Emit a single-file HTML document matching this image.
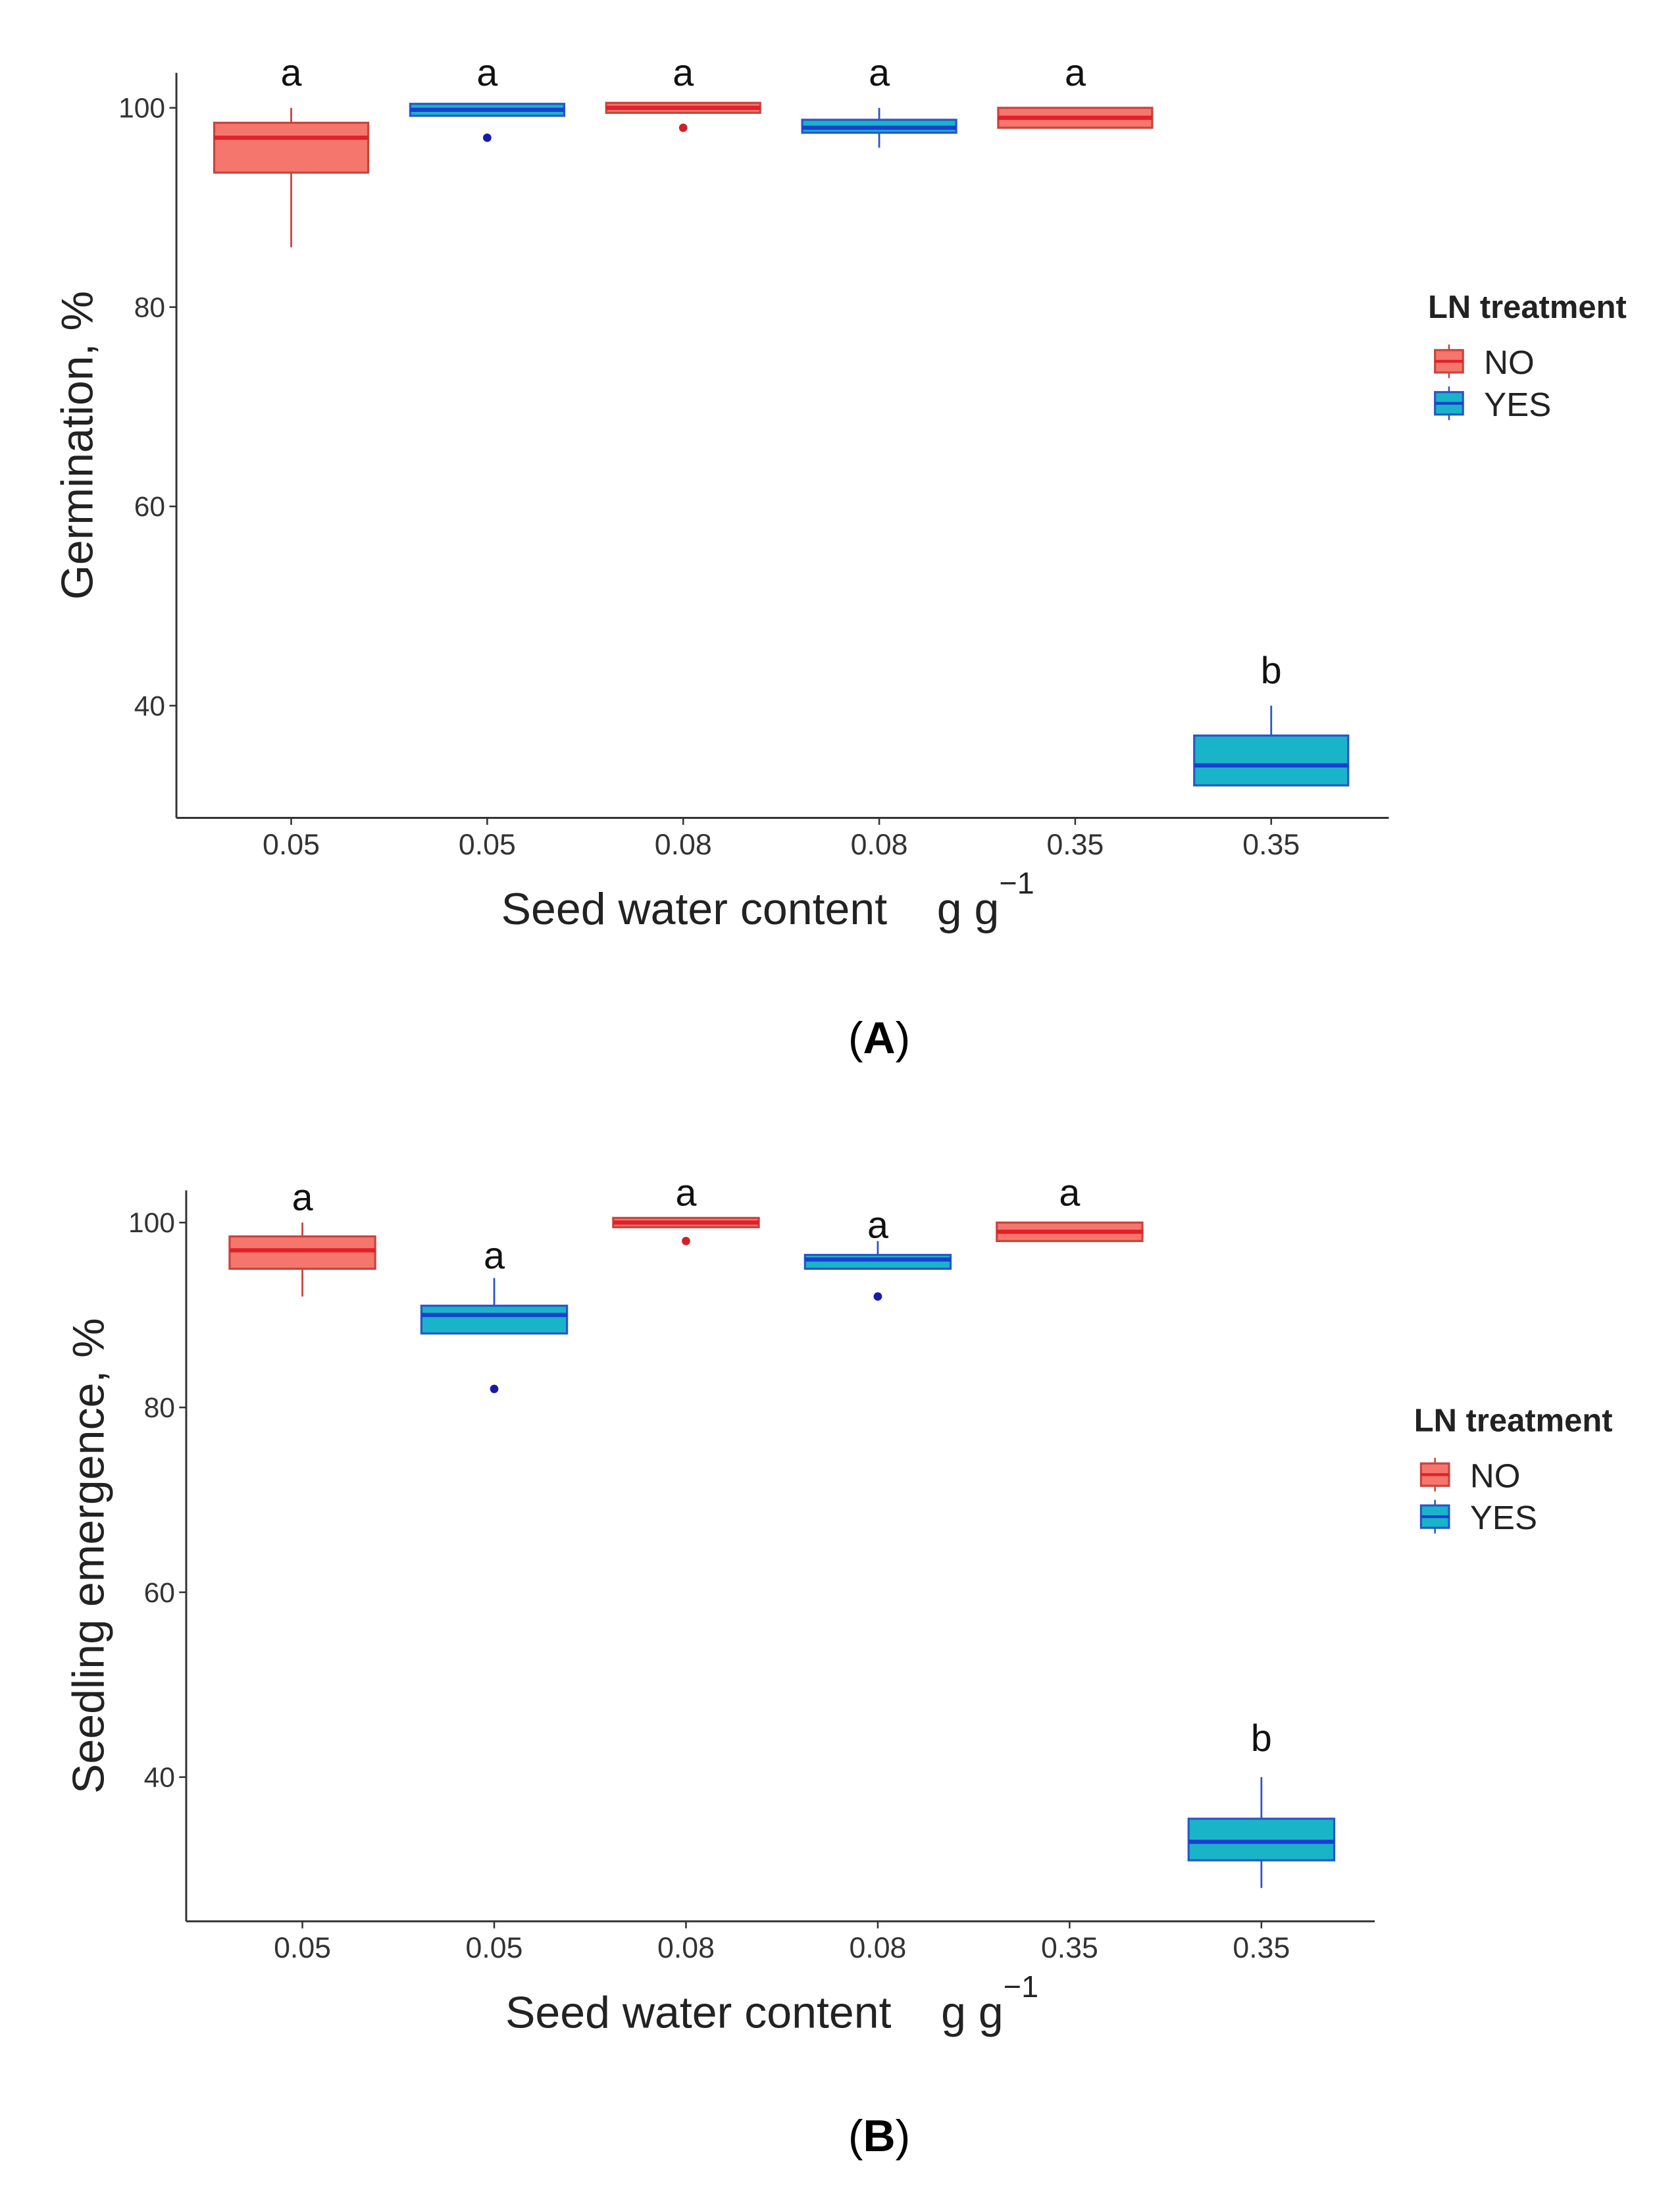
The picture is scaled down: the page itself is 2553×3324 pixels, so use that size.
<!DOCTYPE html>
<html><head><meta charset="utf-8"><style>
html,body{margin:0;padding:0;background:#fff;}
svg{display:block;}
text{font-family:"Liberation Sans",sans-serif;}
</style></head><body>
<svg id="fig" width="2553" height="3324" viewBox="0 0 1200 1562.4" xmlns="http://www.w3.org/2000/svg"></svg>
<script>
const categories = ["0.05","0.05","0.08","0.08","0.35","0.35"];
const groups = ["NO","YES","NO","YES","NO","YES"];
const yTicks = [40,60,80,100];
// panel A: [lowWhisker, q1, median, q3, highWhisker]
const statsA = [[86,93.5,97,98.5,100],[99.2,99.2,99.8,100.4,100.4],[99.5,99.5,100,100.5,100.5],[96,97.5,98,98.8,100],[98,98,99,100,100],[32,32,34,37,40]];
const outliersA = [[],[97],[98],[],[],[]];
const lettersA = ["a","a","a","a","a","b"];
const statsB = [[92,95,97,98.5,100],[88,88,90,91,94],[99.5,99.5,100,100.5,100.5],[95,95,96,96.5,98],[98,98,99,100,100],[28,31,33,35.5,40]];
const outliersB = [[],[82],[98],[92],[],[]];
const lettersB = ["a","a","a","a","a","b"];
const letterValA = [103.5,103.5,103.5,103.5,103.5,43.5];
const letterValB = [102.7,96.4,103.2,99.7,103.2,44.2];

const NS="http://www.w3.org/2000/svg";
const svg=document.getElementById('fig');
function mk(tag,attrs,parent,txt){const e=document.createElementNS(NS,tag);for(const k in attrs)e.setAttribute(k,attrs[k]);if(txt!==undefined)e.textContent=txt;(parent||svg).appendChild(e);return e;}

function panel(cfg){
  const g=mk('g',{});
  
  
  const y=v=>cfg.y100+(100-v)*cfg.pxPer;
  const x=i=>cfg.xs0+i*cfg.dx;
  const ax=mk('line',{x1:cfg.left,y1:cfg.top,x2:cfg.left,y2:cfg.bottom,stroke:'#333','stroke-width':1.4},g);
  
  
  const bx=mk('line',{x1:cfg.left,y1:cfg.bottom,x2:cfg.right,y2:cfg.bottom,stroke:'#333','stroke-width':1.4},g);
  
  
  yTicks.forEach(t=>{
    const l=mk('line',{x1:cfg.left-5,y1:y(t),x2:cfg.left,y2:y(t),stroke:'#333','stroke-width':1.2},g);
    
    
    const tx=mk('text',{x:cfg.left-8,y:y(t)+7,'text-anchor':'end','font-size':20,fill:'#333'},g,t);
    
    
  });
  categories.forEach((c,i)=>{
    const l=mk('line',{x1:x(i),y1:cfg.bottom,x2:x(i),y2:cfg.bottom+5,stroke:'#333','stroke-width':1.2},g);
    
    
    const tx=mk('text',{x:x(i),y:cfg.bottom+26,'text-anchor':'middle','font-size':21,fill:'#333'},g,c);
    
    
  });
  cfg.stats.forEach((s,i)=>{
    const no=groups[i]==='NO';
    const edge=no?'#c8443c':'#2a55c8', fill=no?'#f4766c':'#19b4c8', med=no?'#e0202a':'#1a3fd0';
    const hw=cfg.bw/2;
    const w1=mk('line',{x1:x(i),y1:y(s[4]),x2:x(i),y2:y(s[3]),stroke:edge,'stroke-width':1.3},g);
    
    
    const w2=mk('line',{x1:x(i),y1:y(s[1]),x2:x(i),y2:y(s[0]),stroke:edge,'stroke-width':1.3},g);
    
    
    const r=mk('rect',{x:x(i)-hw,y:y(s[3]),width:cfg.bw,height:Math.max(2,y(s[1])-y(s[3])),fill:fill,stroke:edge,'stroke-width':1.5},g);
    
    
    const m=mk('line',{x1:x(i)-hw,y1:y(s[2]),x2:x(i)+hw,y2:y(s[2]),stroke:med,'stroke-width':3},g);
    
    
    cfg.out[i].forEach(o=>{
      const c=mk('circle',{cx:x(i),cy:y(o),r:3,fill:no?'#d0202a':'#1a1aa8'},g);
      
      
    });
    const lt=mk('text',{x:x(i),y:y(cfg.letterVals[i])+9,'text-anchor':'middle','font-size':27,fill:'#111'},g,cfg.letters[i]);
    
    
  });
  const yt=mk('text',{x:0,y:0,'text-anchor':'middle','font-size':32,fill:'#222',transform:`translate(${cfg.ytx},${(cfg.top+cfg.bottom)/2}) rotate(-90)`},g,cfg.ytitle);
  
  
  const xt=mk('text',{x:cfg.xtx,y:cfg.bottom+76,'font-size':32,fill:'#222'},g);
  
  
  mk('tspan',{},xt,'Seed water content\u00a0\u00a0\u00a0\u00a0g g');
  mk('tspan',{dy:-22,'font-size':22},xt,'\u22121');
  const lg=mk('g',{},g);
  
  
  const lt=mk('text',{x:cfg.lgx,y:cfg.lgy,'font-size':23,'font-weight':'bold',fill:'#222'},lg,'LN treatment');
  
  
  [['NO','#f4766c','#c8443c','#e0202a'],['YES','#19b4c8','#2a55c8','#1a3fd0']].forEach((k,j)=>{
    const cy=cfg.lgy+31+j*30;
    const e=mk('g',{},lg);
    
    
    mk('line',{x1:cfg.lgx+15,y1:cy-12,x2:cfg.lgx+15,y2:cy+12,stroke:k[2],'stroke-width':1.2},e);
    mk('rect',{x:cfg.lgx+5,y:cy-8,width:20,height:16,fill:k[1],stroke:k[2],'stroke-width':1.5},e);
    mk('line',{x1:cfg.lgx+5,y1:cy,x2:cfg.lgx+25,y2:cy,stroke:k[3],'stroke-width':2},e);
    mk('text',{x:cfg.lgx+40,y:cy+9,'font-size':24,fill:'#222'},e,k[0]);
  });
  const pl=mk('text',{x:628,y:cfg.lab,'text-anchor':'middle','font-size':32,'font-family':'Liberation Serif, serif',fill:'#000'},g);
  
  
  mk('tspan',{},pl,'(');
  mk('tspan',{'font-weight':'bold'},pl,cfg.panel);
  mk('tspan',{},pl,')');
}
panel({name:'panel-a',panel:'A',left:126,right:992,top:52,bottom:584,y100:77,pxPer:7.115,xs0:208,dx:140,bw:110,stats:statsA,out:outliersA,letters:lettersA,letterVals:letterValA,ytitle:'Germination, %',ytx:66,xtx:358,lgx:1020,lgy:227,lab:752});
panel({name:'panel-b',panel:'B',left:133,right:982,top:850,bottom:1372,y100:873,pxPer:6.6,xs0:216,dx:137,bw:104,stats:statsB,out:outliersB,letters:lettersB,letterVals:letterValB,ytitle:'Seedling emergence, %',ytx:74,xtx:361,lgx:1010,lgy:1022,lab:1536});
</script>
</body></html>
